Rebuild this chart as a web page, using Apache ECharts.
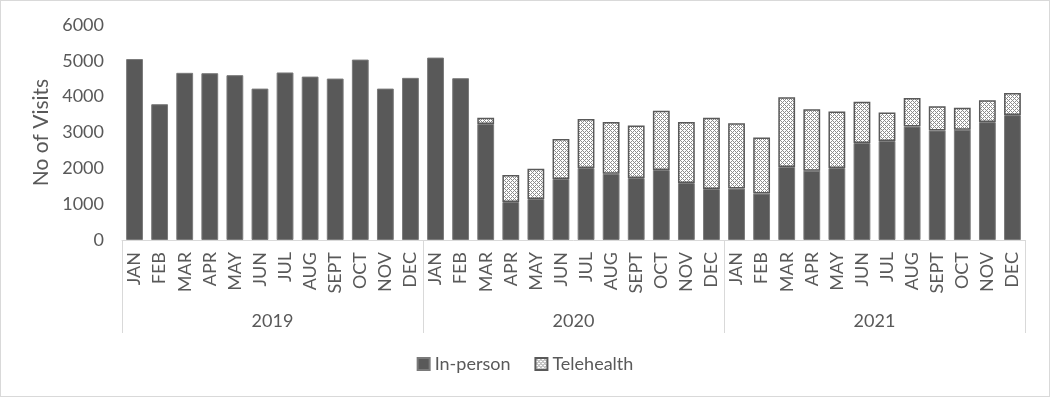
<!DOCTYPE html>
<html>
<head>
<meta charset="utf-8">
<script src="https://cdn.jsdelivr.net/npm/echarts@6/dist/echarts.min.js"></script>
<style>
  html, body { margin: 0; padding: 0; background: #fff; }
  #chart { width: 1050px; height: 397px; box-sizing: border-box; border: 1px solid #d9d9d9; }
</style>
</head>
<body>
<div id="chart"></div>
<script>
const months = ['JAN', 'FEB', 'MAR', 'APR', 'MAY', 'JUN', 'JUL', 'AUG', 'SEPT', 'OCT', 'NOV', 'DEC']
const years = ['2019', '2020', '2021']
const categories = years.flatMap(y => months.map(m => m))

const inPerson = [
  5050, 3790, 4665, 4655, 4600, 4225, 4675, 4560, 4505, 5035, 4225, 4525,
  5090, 4515, 3240, 1060, 1145, 1705, 2010, 1850, 1730, 1955, 1590, 1425,
  1435, 1295, 2040, 1935, 2010, 2710, 2765, 3165, 3055, 3080, 3290, 3485
]
const telehealth = [
  null, null, null, null, null, null, null, null, null, null, null, null,
  null, null, 175, 755, 845, 1115, 1370, 1440, 1465, 1655, 1700, 1985,
  1825, 1565, 1945, 1715, 1575, 1145, 790, 800, 680, 610, 610, 615
]
const yTicks = [0, 1000, 2000, 3000, 4000, 5000, 6000]

// little crosshatch fill like excel's dotted diamond
function makePattern () {
  const c = document.createElement('canvas')
  c.width = 4
  c.height = 4
  const ctx = c.getContext('2d')
  ctx.fillStyle = '#ffffff'
  ctx.fillRect(0, 0, 4, 4)
  ctx.fillStyle = '#8c8c8c'
  ctx.fillRect(0, 0, 1, 1)
  ctx.fillRect(2, 0, 1, 1)
  ctx.fillRect(1, 1, 1, 1)
  ctx.fillRect(0, 2, 1, 1)
  ctx.fillRect(2, 2, 1, 1)
  ctx.fillRect(3, 3, 1, 1)
  return c
}

const font = 'Lato, "Open Sans", sans-serif'
const txt = '#595959'
const myChart = echarts.init(document.getElementById('chart'))
myChart.setOption({
  animation: false,
  textStyle: { fontFamily: font },
  legend: {
    bottom: 18,
    left: 'center',
    itemWidth: 12,
    itemHeight: 12,
    itemGap: 24,
    icon: 'rect',
    textStyle: { color: txt, fontSize: 18, fontFamily: font },
    data: ['In-person', 'Telehealth']
  },
  grid: {
    left: 121,
    right: 24,
    top: 24,
    bottom: 156
  },
  xAxis: [
    {
      type: 'category',
      data: categories,
      axisLine: { lineStyle: { color: '#d9d9d9' } },
      axisTick: { show: false },
      axisLabel: {
        rotate: 90,
        interval: 0,
        margin: 12,
        color: txt,
        fontSize: 18,
        fontFamily: font
      }
    },
    {
      type: 'category',
      position: 'bottom',
      data: years,
      axisLine: { show: false },
      axisTick: {
        show: true,
        interval: 0,
        length: 93,
        lineStyle: { color: '#d9d9d9' }
      },
      axisLabel: {
        interval: 0,
        margin: 72,
        color: txt,
        fontSize: 18,
        fontFamily: font
      }
    }
  ],
  yAxis: {
    type: 'value',
    min: yTicks[0],
    max: yTicks[yTicks.length - 1],
    interval: 1000,
    name: 'No of Visits',
    nameLocation: 'middle',
    nameGap: 64,
    nameTextStyle: { color: txt, fontSize: 21, fontFamily: font },
    axisLine: { show: false },
    axisTick: { show: false },
    splitLine: { show: false },
    axisLabel: {
      color: txt,
      fontSize: 18,
      margin: 18,
      fontFamily: font,
      formatter: v => String(v)
    }
  },
  series: [
    {
      name: 'In-person',
      type: 'bar',
      stack: 'visits',
      barCategoryGap: '33%',
      data: inPerson,
      itemStyle: { color: '#595959', borderColor: '#7a7a7a', borderWidth: 1 }
    },
    {
      name: 'Telehealth',
      type: 'bar',
      stack: 'visits',
      barCategoryGap: '33%',
      data: telehealth,
      itemStyle: {
        color: { image: makePattern(), repeat: 'repeat' },
        borderColor: '#595959',
        borderWidth: 1.5
      }
    }
  ]
})
</script>
</body>
</html>
